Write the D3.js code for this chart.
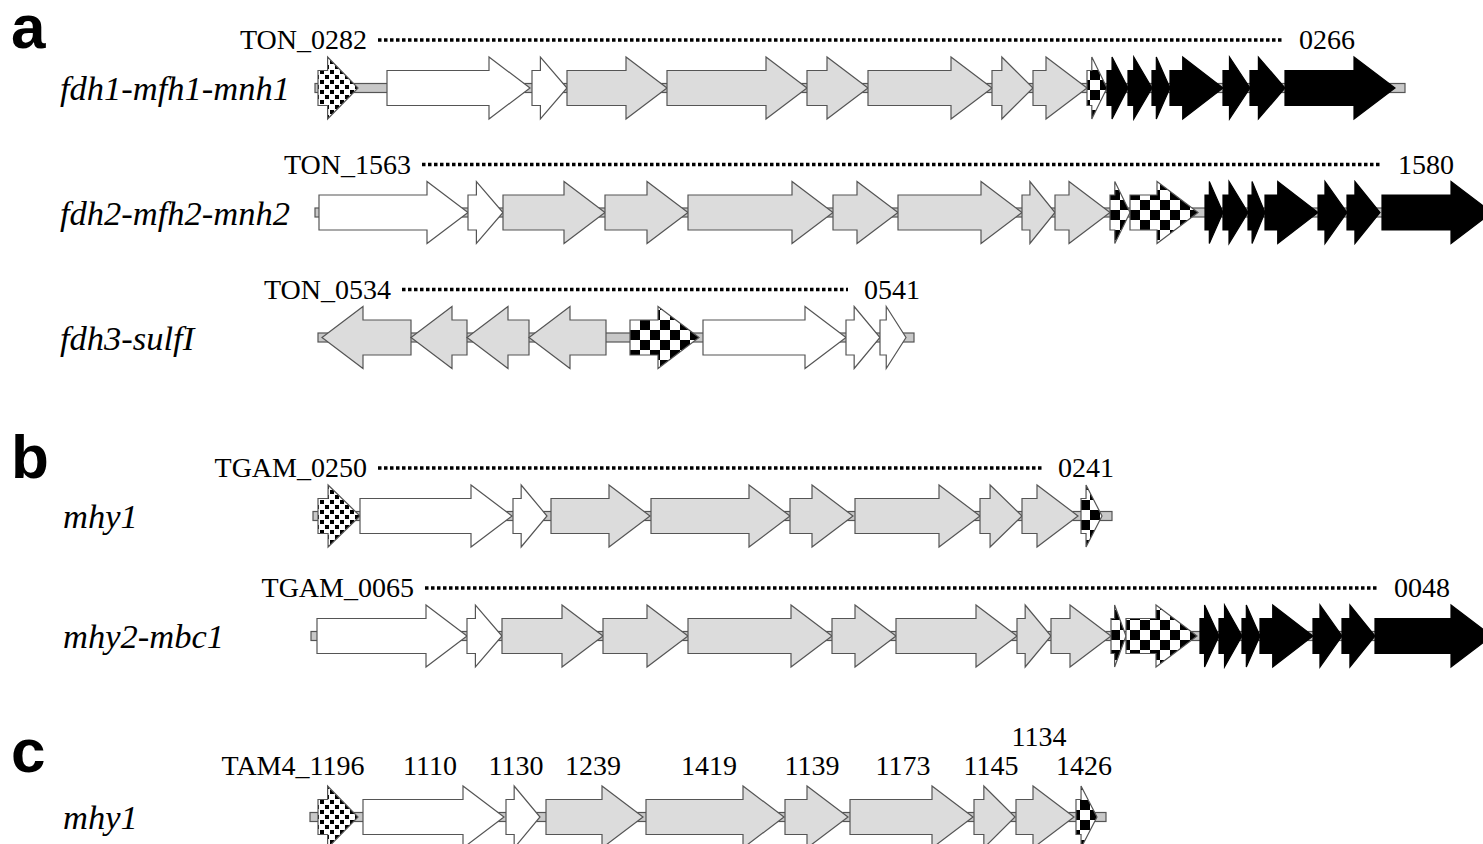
<!DOCTYPE html>
<html lang="en">
  <head>
    <meta charset="UTF-8" />
    <title>Gene clusters</title>
    <style>
      body { margin: 0; background: #fff; }
      svg { display: block; }
    </style>
  </head>
  <body>
    <div id="chart"></div>
    <script src="https://cdn.jsdelivr.net/npm/d3@7"></script>
    <script>
      // gene coordinates along each locus (arbitrary position units), fill code:
      // w = white, g = grey, k = black, c = checker, f = fine checker
      const trackNames = ["fdh1-mfh1-mnh1", "fdh2-mfh2-mnh2", "fdh3-sulfI", "mhy1", "mhy2-mbc1", "mhy1"];
      const sections = ["a", "b", "c"];

      const backbones = [[5, 1095], [5, 1180], [8, 604], [3, 802], [1, 1180], [0, 796]];

      const genesFdh1 = [
        [8, 48, "f"], [77, 220, "w"], [222, 257, "w"], [257, 357, "g"], [357, 497, "g"],
        [497, 558, "g"], [558, 682, "g"], [682, 723, "g"], [723, 777, "g"], [777, 797, "c"],
        [797, 818, "k"], [818, 842, "k"], [842, 860, "k"], [860, 913, "k"], [913, 940, "k"],
        [940, 975, "k"], [975, 1085, "k"]
      ];
      const genesFdh2 = [
        [9, 158, "w"], [158, 193, "w"], [193, 295, "g"], [295, 378, "g"], [378, 523, "g"],
        [523, 588, "g"], [588, 712, "g"], [712, 745, "g"], [745, 800, "g"], [800, 820, "c"],
        [820, 888, "c"], [895, 913, "k"], [913, 938, "k"], [938, 955, "k"], [955, 1008, "k"],
        [1008, 1037, "k"], [1037, 1070, "k"], [1072, 1182, "k"]
      ];
      const genesFdh3 = [
        [101, 12, "g"], [157, 101, "g"], [219, 157, "g"], [296, 219, "g"],
        [320, 389, "c"], [393, 536, "w"], [536, 570, "w"], [570, 596, "w"]
      ];
      const genesMhy1 = [
        [8, 50, "f"], [50, 202, "w"], [203, 237, "w"], [241, 340, "g"], [341, 480, "g"],
        [480, 543, "g"], [545, 670, "g"], [670, 712, "g"], [712, 768, "g"], [771, 792, "c"]
      ];
      const genesMhy2 = [
        [7, 157, "w"], [157, 192, "w"], [192, 293, "g"], [293, 378, "g"], [378, 522, "g"],
        [522, 586, "g"], [586, 707, "g"], [707, 741, "g"], [741, 801, "g"], [801, 816, "c"],
        [816, 887, "c"], [890, 909, "k"], [909, 932, "k"], [932, 950, "k"], [950, 1003, "k"],
        [1003, 1032, "k"], [1032, 1065, "k"], [1065, 1182, "k"]
      ];
      const genesTam = [
        [8, 48, "f"], [53, 194, "w"], [196, 230, "w"], [236, 333, "g"], [336, 474, "g"],
        [475, 538, "g"], [540, 663, "g"], [664, 705, "g"], [706, 764, "g"], [766, 787, "c"]
      ];
      const allGenes = [genesFdh1, genesFdh2, genesFdh3, genesMhy1, genesMhy2, genesTam];

      // locus tags: first tag, last tag, dotted span start, end
      const locusTags = [
        ["TON_0282", "0266", 68, 973],
        ["TON_1563", "1580", 112, 1072],
        ["TON_0534", "0541", 92, 538],
        ["TGAM_0250", "0241", 68, 732],
        ["TGAM_0065", "0048", 115, 1068]
      ];
      // per-gene tags of the last locus: text, centre position, level
      const tamTags = [
        ["TAM4_1196", -17, 0], ["1110", 120, 0], ["1130", 206, 0], ["1239", 283, 0],
        ["1419", 399, 0], ["1139", 502, 0], ["1173", 593, 0], ["1145", 681, 0],
        ["1134", 729, 1], ["1426", 774, 0]
      ];

      const width = 1483, height = 844;
      const trackY = [88, 212.5, 337.5, 516, 636, 817];
      const sectionY = [48, 478, 772];

      const svg = d3.select("#chart").append("svg")
        .attr("width", width).attr("height", height);

      const x = d3.scaleLinear().domain([0, 1200]).range([310, 1510]);

      const defs = svg.append("defs");
      const big = defs.append("pattern").attr("id", "checker")
        .attr("patternUnits", "userSpaceOnUse").attr("width", 20).attr("height", 20);
      big.append("rect").attr("width", 20).attr("height", 20).attr("fill", "#fff");
      big.append("rect").attr("width", 10).attr("height", 10).attr("fill", "#000");
      big.append("rect").attr("x", 10).attr("y", 10).attr("width", 10).attr("height", 10).attr("fill", "#000");
      const fine = defs.append("pattern").attr("id", "fine")
        .attr("patternUnits", "userSpaceOnUse").attr("width", 10).attr("height", 10);
      fine.append("rect").attr("width", 10).attr("height", 10).attr("fill", "#fff");
      fine.append("rect").attr("width", 4).attr("height", 4).attr("fill", "#000");
      fine.append("rect").attr("x", 5).attr("y", 5).attr("width", 4).attr("height", 4).attr("fill", "#000");

      const fills = { w: "#fff", g: "#dcdcdc", k: "#000", c: "url(#checker)", f: "url(#fine)" };
      const bodyH = 17.5, headH = 31;

      function arrow(d, cy) {
        const x0 = x(d[0]), x1 = x(d[1]);
        const dir = x1 > x0 ? 1 : -1;
        const len = Math.abs(x1 - x0);
        const head = Math.min(41, len * 0.76);
        const h = x1 - dir * head;
        return d3.line()([
          [x0, cy - bodyH], [h, cy - bodyH], [h, cy - headH], [x1, cy],
          [h, cy + headH], [h, cy + bodyH], [x0, cy + bodyH]
        ]) + "Z";
      }

      trackNames.forEach((name, i) => {
        const cy = trackY[i];
        const g = svg.append("g");
        g.append("rect")
          .attr("x", x(backbones[i][0])).attr("y", cy - 4.5)
          .attr("width", x(backbones[i][1]) - x(backbones[i][0])).attr("height", 9)
          .attr("fill", "#c8c8c8").attr("stroke", "#555").attr("stroke-width", 1.2);
        g.selectAll("path.gene").data(allGenes[i]).join("path")
          .attr("class", "gene")
          .attr("d", (d) => arrow(d, cy))
          .attr("fill", (d) => fills[d[2]])
          .attr("stroke", (d) => (d[2] === "k" ? "#000" : "#555"))
          .attr("stroke-width", 1.2)
          .attr("stroke-linejoin", "miter");
        svg.append("text")
          .attr("x", i >= 3 ? 63 : 60).attr("y", cy + 12)
          .attr("font-family", "Liberation Serif").attr("font-style", "italic")
          .attr("font-size", 34.5).text(name);
      });

      locusTags.forEach((t, i) => {
        const cy = trackY[i];
        svg.append("line")
          .attr("x1", x(t[2])).attr("x2", x(t[3]))
          .attr("y1", cy - 48).attr("y2", cy - 48)
          .attr("stroke", "#000").attr("stroke-width", 3.5)
          .attr("stroke-dasharray", "3.5,2.5");
        svg.append("text")
          .attr("x", x(t[2]) - 11).attr("y", cy - 39)
          .attr("text-anchor", "end")
          .attr("font-family", "Liberation Serif").attr("font-size", 28)
          .text(t[0]);
        svg.append("text")
          .attr("x", x(t[3]) + 16).attr("y", cy - 39)
          .attr("font-family", "Liberation Serif").attr("font-size", 28)
          .text(t[1]);
      });

      svg.selectAll("text.tam").data(tamTags).join("text")
        .attr("class", "tam")
        .attr("x", (d) => x(d[1])).attr("y", (d) => trackY[5] - 42 - d[2] * 29)
        .attr("text-anchor", "middle")
        .attr("font-family", "Liberation Serif").attr("font-size", 28)
        .text((d) => d[0]);

      svg.selectAll("text.sec").data(sections).join("text")
        .attr("class", "sec")
        .attr("x", 11).attr("y", (d, i) => sectionY[i])
        .attr("font-family", "Liberation Sans").attr("font-weight", "bold")
        .attr("font-size", 62).text((d) => d);
    </script>
  </body>
</html>
